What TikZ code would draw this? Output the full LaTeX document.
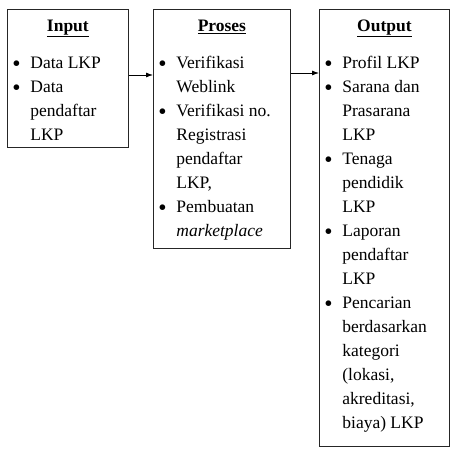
\documentclass[tikz,border=0pt]{standalone}
\usepackage{fontspec}
\setmainfont{Liberation Serif}
\usepackage{enumitem}
\usetikzlibrary{arrows.meta}
\tikzset{panel/.style={draw=black!85,line width=0.8pt,inner xsep=5pt,inner ysep=0pt,anchor=north west}}
\newcommand{\dotmark}{\raisebox{-3pt}{\scalebox{1.35}{\textbullet}}}
\newcommand{\panelbody}[4]{%
\begin{minipage}[t][#2][t]{#1}
\fontsize{17.5pt}{24pt}\selectfont
{\centering\rule{0pt}{22pt}\textbf{\underline{#3}}\par}
\raggedright
\begin{itemize}[label=\dotmark,leftmargin=18pt,labelindent=0pt,labelwidth=7pt,labelsep=*,align=left,topsep=13pt,partopsep=0pt,itemsep=0pt,parsep=0pt]
#4
\end{itemize}
\end{minipage}}

\begin{document}
\begin{tikzpicture}[x=1pt,y=1pt]
\useasboundingbox (0,0) rectangle (451,-449);
\node[panel] (input) at (7,-9) {\panelbody{111pt}{138pt}{Input}{%
\item Data LKP
\item Data\newline pendaftar\newline LKP}};
\node[panel] (proses) at (153,-9) {\panelbody{127pt}{239pt}{Proses}{%
\item Verifikasi\newline Weblink
\item Verifikasi no.\newline Registrasi\newline pendaftar\newline LKP,
\item Pembuatan\newline \textit{marketplace}}};
\node[panel] (output) at (319,-9) {\panelbody{120pt}{437pt}{Output}{%
\item Profil LKP
\item Sarana dan\newline Prasarana\newline LKP
\item Tenaga\newline pendidik\newline LKP
\item Laporan\newline pendaftar\newline LKP
\item Pencarian\newline berdasarkan\newline kategori\newline (lokasi,\newline akreditasi,\newline biaya) LKP}};
\path[-{Latex[length=7pt,width=5pt]},line width=0.8pt]
([yshift=-66pt]input.north east) edge ([yshift=-66pt]proses.north west)
([yshift=-64pt]proses.north east) edge ([yshift=-64pt]output.north west);
\end{tikzpicture}
\end{document}
